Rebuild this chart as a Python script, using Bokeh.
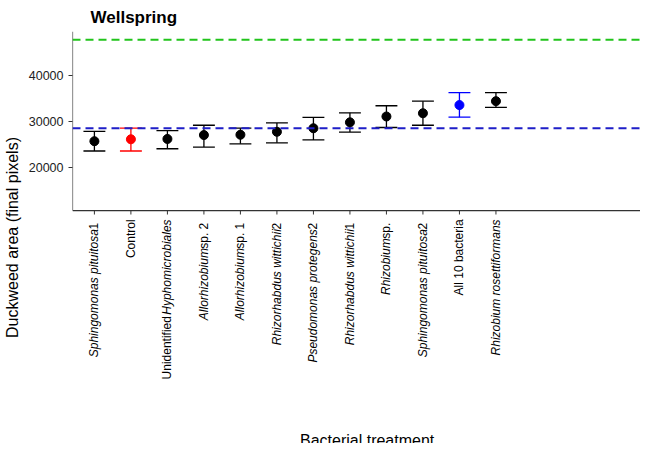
import math
from bokeh.plotting import figure
from bokeh.models import Span, FixedTicker, Range1d
from bokeh.core.properties import value
from bokeh.embed import file_html
from bokeh.resources import INLINE

# label segments: (text, italic)
labels = [
    [("Sphingomonas pituitosa", True), (" 1", False)],
    [("Control", False)],
    [("Unidentified ", False), ("Hyphomicrobiales", True)],
    [("Allorhizobium", True), (" sp. 2", False)],
    [("Allorhizobium", True), (" sp. 1", False)],
    [("Rhizorhabdus wittichii", True), (" 2", False)],
    [("Pseudomonas protegens", True), (" 2", False)],
    [("Rhizorhabdus wittichii", True), (" 1", False)],
    [("Rhizobium", True), (" sp.", False)],
    [("Sphingomonas pituitosa", True), (" 2", False)],
    [("All 10 bacteria", False)],
    [("Rhizobium rosettiformans", True)],
]
means = [25680, 26100, 26170, 27020, 27090, 27730, 28500, 29790, 31060, 31770, 33550, 34400]
upper = [27800, 28510, 28000, 29150, 28510, 29650, 30850, 31850, 33400, 34400, 36240, 36240]
lower = [23550, 23550, 24040, 24400, 25100, 25320, 25960, 27660, 28660, 29150, 30920, 33050]
colors = ["black", "red", "black", "black", "black", "black", "black", "black", "black", "black", "blue", "black"]
green_ref = 47800
blue_ref = 28500

# approximate Arial advance widths (per 1000 em)
W = {" ": 278, ".": 278, "s": 500, "p": 556, "H": 722, "y": 500, "h": 556, "o": 556,
     "m": 833, "i": 222, "c": 500, "r": 333, "b": 556, "a": 556, "l": 222, "e": 556}
def text_width(s, size):
    return sum(W.get(ch, 556) for ch in s) * size / 1000.0

FS = 12
ymin, ymax = 10570, 49570
px_per_unit = 183 / (ymax - ymin)
ybottom = ymax - 421 / px_per_unit   # frame continues to canvas bottom
xmin, xmax = -0.6, 14.96
px_per_x = 588 / (xmax - xmin)
FONT = "Liberation Sans"

p = figure(width=640, height=443, output_backend="svg", toolbar_location=None,
           x_range=Range1d(xmin, xmax), y_range=Range1d(ybottom, ymax),
           min_border_left=52, min_border_right=0, min_border_top=22, min_border_bottom=0,
           title="Wellspring")
p.title.text_font = FONT
p.title.text_font_size = "17px"
p.title.text_color = "black"
p.title.offset = 18
p.grid.visible = False
p.outline_line_color = None
p.xaxis.visible = False

# axis lines and x ticks
p.segment(x0=[xmin, xmin], y0=[ymin, ymin], x1=[xmax, xmin], y1=[ymin, ymax],
          line_color="#333333", line_width=1.2)
xs = list(range(len(means)))
p.segment(x0=xs, y0=[ymin] * len(xs), x1=xs, y1=[ymin - 4 / px_per_unit] * len(xs),
          line_color="#333333", line_width=1)

for x, m, u, l, c in zip(xs, means, upper, lower, colors):
    p.segment(x0=[x, x - 0.3, x - 0.3], y0=[l, l, u], x1=[x, x + 0.3, x + 0.3], y1=[u, l, u],
              line_color=c, line_width=1.3)
p.scatter(xs, means, size=9, color=colors)

p.add_layout(Span(location=green_ref, dimension="width", line_color="#22c41c",
                  line_dash="8 5", line_width=2))
p.add_layout(Span(location=blue_ref, dimension="width", line_color="#1e1ec8",
                  line_dash="8 5", line_width=2))

ax = p.yaxis[0]
ax.axis_line_color = None
ax.major_tick_line_color = "#333333"
ax.major_tick_out = 4
ax.major_tick_in = 0
ax.minor_tick_line_color = None
ax.major_label_text_font = FONT
ax.major_label_text_font_size = "12.5px"
ax.major_label_text_color = "#222222"
ax.axis_label_text_font = FONT
ax.axis_label_text_font_size = "16px"
ax.axis_label_text_font_style = "normal"
ax.axis_label_text_color = "black"
ax.ticker = FixedTicker(ticks=[20000, 30000, 40000])
ax.axis_label = "Duckweed area (final pixels)"
ax.axis_label_standoff = 5

# rotated category labels built from segments
tx = {True: [], False: []}
ty = {True: [], False: []}
tt = {True: [], False: []}
for x, segs in zip(xs, labels):
    offset = 9
    for text, ital in reversed(segs):
        tx[ital].append(x)
        ty[ital].append(ymin - offset / px_per_unit)
        tt[ital].append(text)
        offset += text_width(text, FS)
for ital in (True, False):
    p.text(x=tx[ital], y=ty[ital], text=tt[ital], angle=math.pi / 2, text_align="right",
           text_baseline="middle", text_font=value(FONT), text_font_size=f"{FS}px",
           text_color="black", text_font_style="italic" if ital else "normal")

p.text(x=[(357 - 52) / px_per_x + xmin], y=[ymax - 418 / px_per_unit], text=["Bacterial treatment"],
       text_align="center", text_baseline="middle", text_font=value(FONT),
       text_font_size="16px", text_color="black")

open("out.html", "w").write(file_html(p, INLINE))
